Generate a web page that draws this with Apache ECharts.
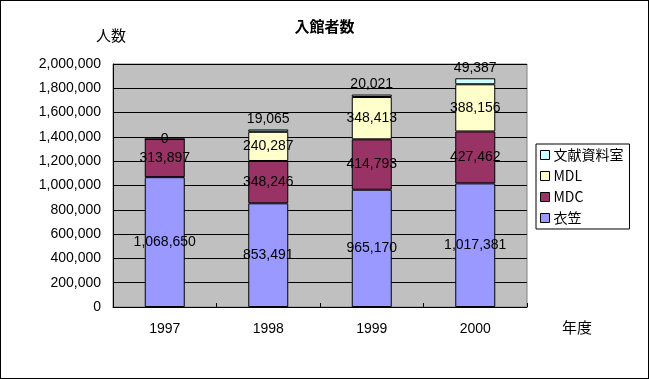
<!DOCTYPE html>
<html><head><meta charset="utf-8">
<script src="https://cdn.jsdelivr.net/npm/echarts@6/dist/echarts.min.js"></script>
<style>html,body{margin:0;padding:0;background:#fff}#c{width:649px;height:379px;box-sizing:border-box;border:1px solid #000}</style>
</head><body><div id="c"></div>
<script>
const categories = ['1997', '1998', '1999', '2000'];
const kinugasa = [1068650, 853491, 965170, 1017381];
const mdc = [313897, 348246, 414793, 427462];
const mdl = [null, 240287, 348413, 388156];
const bunken = [0, 19065, 20021, 49387];
const seriesNames = ['衣笠', 'MDC', 'MDL', '文献資料室'];
const colors = ['#9999FF', '#993366', '#FFFFCC', '#CCFFFF'];

const numFont = 'Liberation Sans, Arial, sans-serif';
const jpFont = 'Noto Sans CJK JP, sans-serif';
const fmt = v => v == null ? '' : Number(v).toLocaleString('en-US');

const chart = echarts.init(document.getElementById('c'));
const mkSeries = (name, data, color, isTop) => ({
  name, type: 'bar', stack: 'a', barWidth: 40, data: data.map(v => {
    if (isTop && v === 0) return {value: v, label: {position: 'inside'}};
    return v;
  }),
  itemStyle: {color, borderColor: '#000', borderWidth: 1},
  label: {show: true, position: isTop ? 'top' : 'inside', distance: 3,
    color: '#000', fontFamily: numFont, fontSize: 14,
    formatter: p => fmt(p.value)}
});
chart.setOption({
  animation: false,
  title: [
    {text: '入館者数', left: 'center', top: 13, textStyle: {fontFamily: jpFont, fontSize: 15, fontWeight: 'bold', color: '#000'}},
    {text: '人数', left: 90, top: 22, textStyle: {fontFamily: jpFont, fontSize: 15, fontWeight: 'normal', color: '#000'}},
    {text: '年度', left: 556, top: 314, textStyle: {fontFamily: jpFont, fontSize: 15, fontWeight: 'normal', color: '#000'}}
  ],
  legend: {
    orient: 'vertical', left: 535, top: 143,
    data: seriesNames.slice().reverse(),
    backgroundColor: '#fff', borderColor: '#000', borderWidth: 1,
    padding: [4, 6, 4, 4], itemGap: 7, itemWidth: 9, itemHeight: 9,
    icon: 'rect',
    itemStyle: {borderColor: '#000', borderWidth: 1},
    textStyle: {fontFamily: jpFont, fontSize: 14, color: '#000', padding: [0, 0, 0, -1]}
  },
  grid: {left: 112, right: 121, top: 63, bottom: 71, show: true, backgroundColor: '#C0C0C0', borderColor: '#808080', borderWidth: 1},
  xAxis: {
    type: 'category', data: categories,
    axisLine: {lineStyle: {color: '#000', width: 1}},
    axisTick: {show: true, inside: true, length: 4, lineStyle: {color: '#000'}},
    axisLabel: {margin: 15, color: '#000', fontFamily: numFont, fontSize: 14}
  },
  yAxis: {
    type: 'value', min: 0, max: 2000000, interval: 200000,
    axisLine: {show: true, lineStyle: {color: '#000', width: 1}},
    axisTick: {show: false},
    axisLabel: {margin: 12, color: '#000', fontFamily: numFont, fontSize: 14, formatter: v => fmt(v)},
    splitLine: {show: true, lineStyle: {color: '#000', width: 1}}
  },
  series: [
    mkSeries(seriesNames[0], kinugasa, colors[0], false),
    mkSeries(seriesNames[1], mdc, colors[1], false),
    mkSeries(seriesNames[2], mdl, colors[2], false),
    mkSeries(seriesNames[3], bunken, colors[3], true)
  ]
});
</script></body></html>
